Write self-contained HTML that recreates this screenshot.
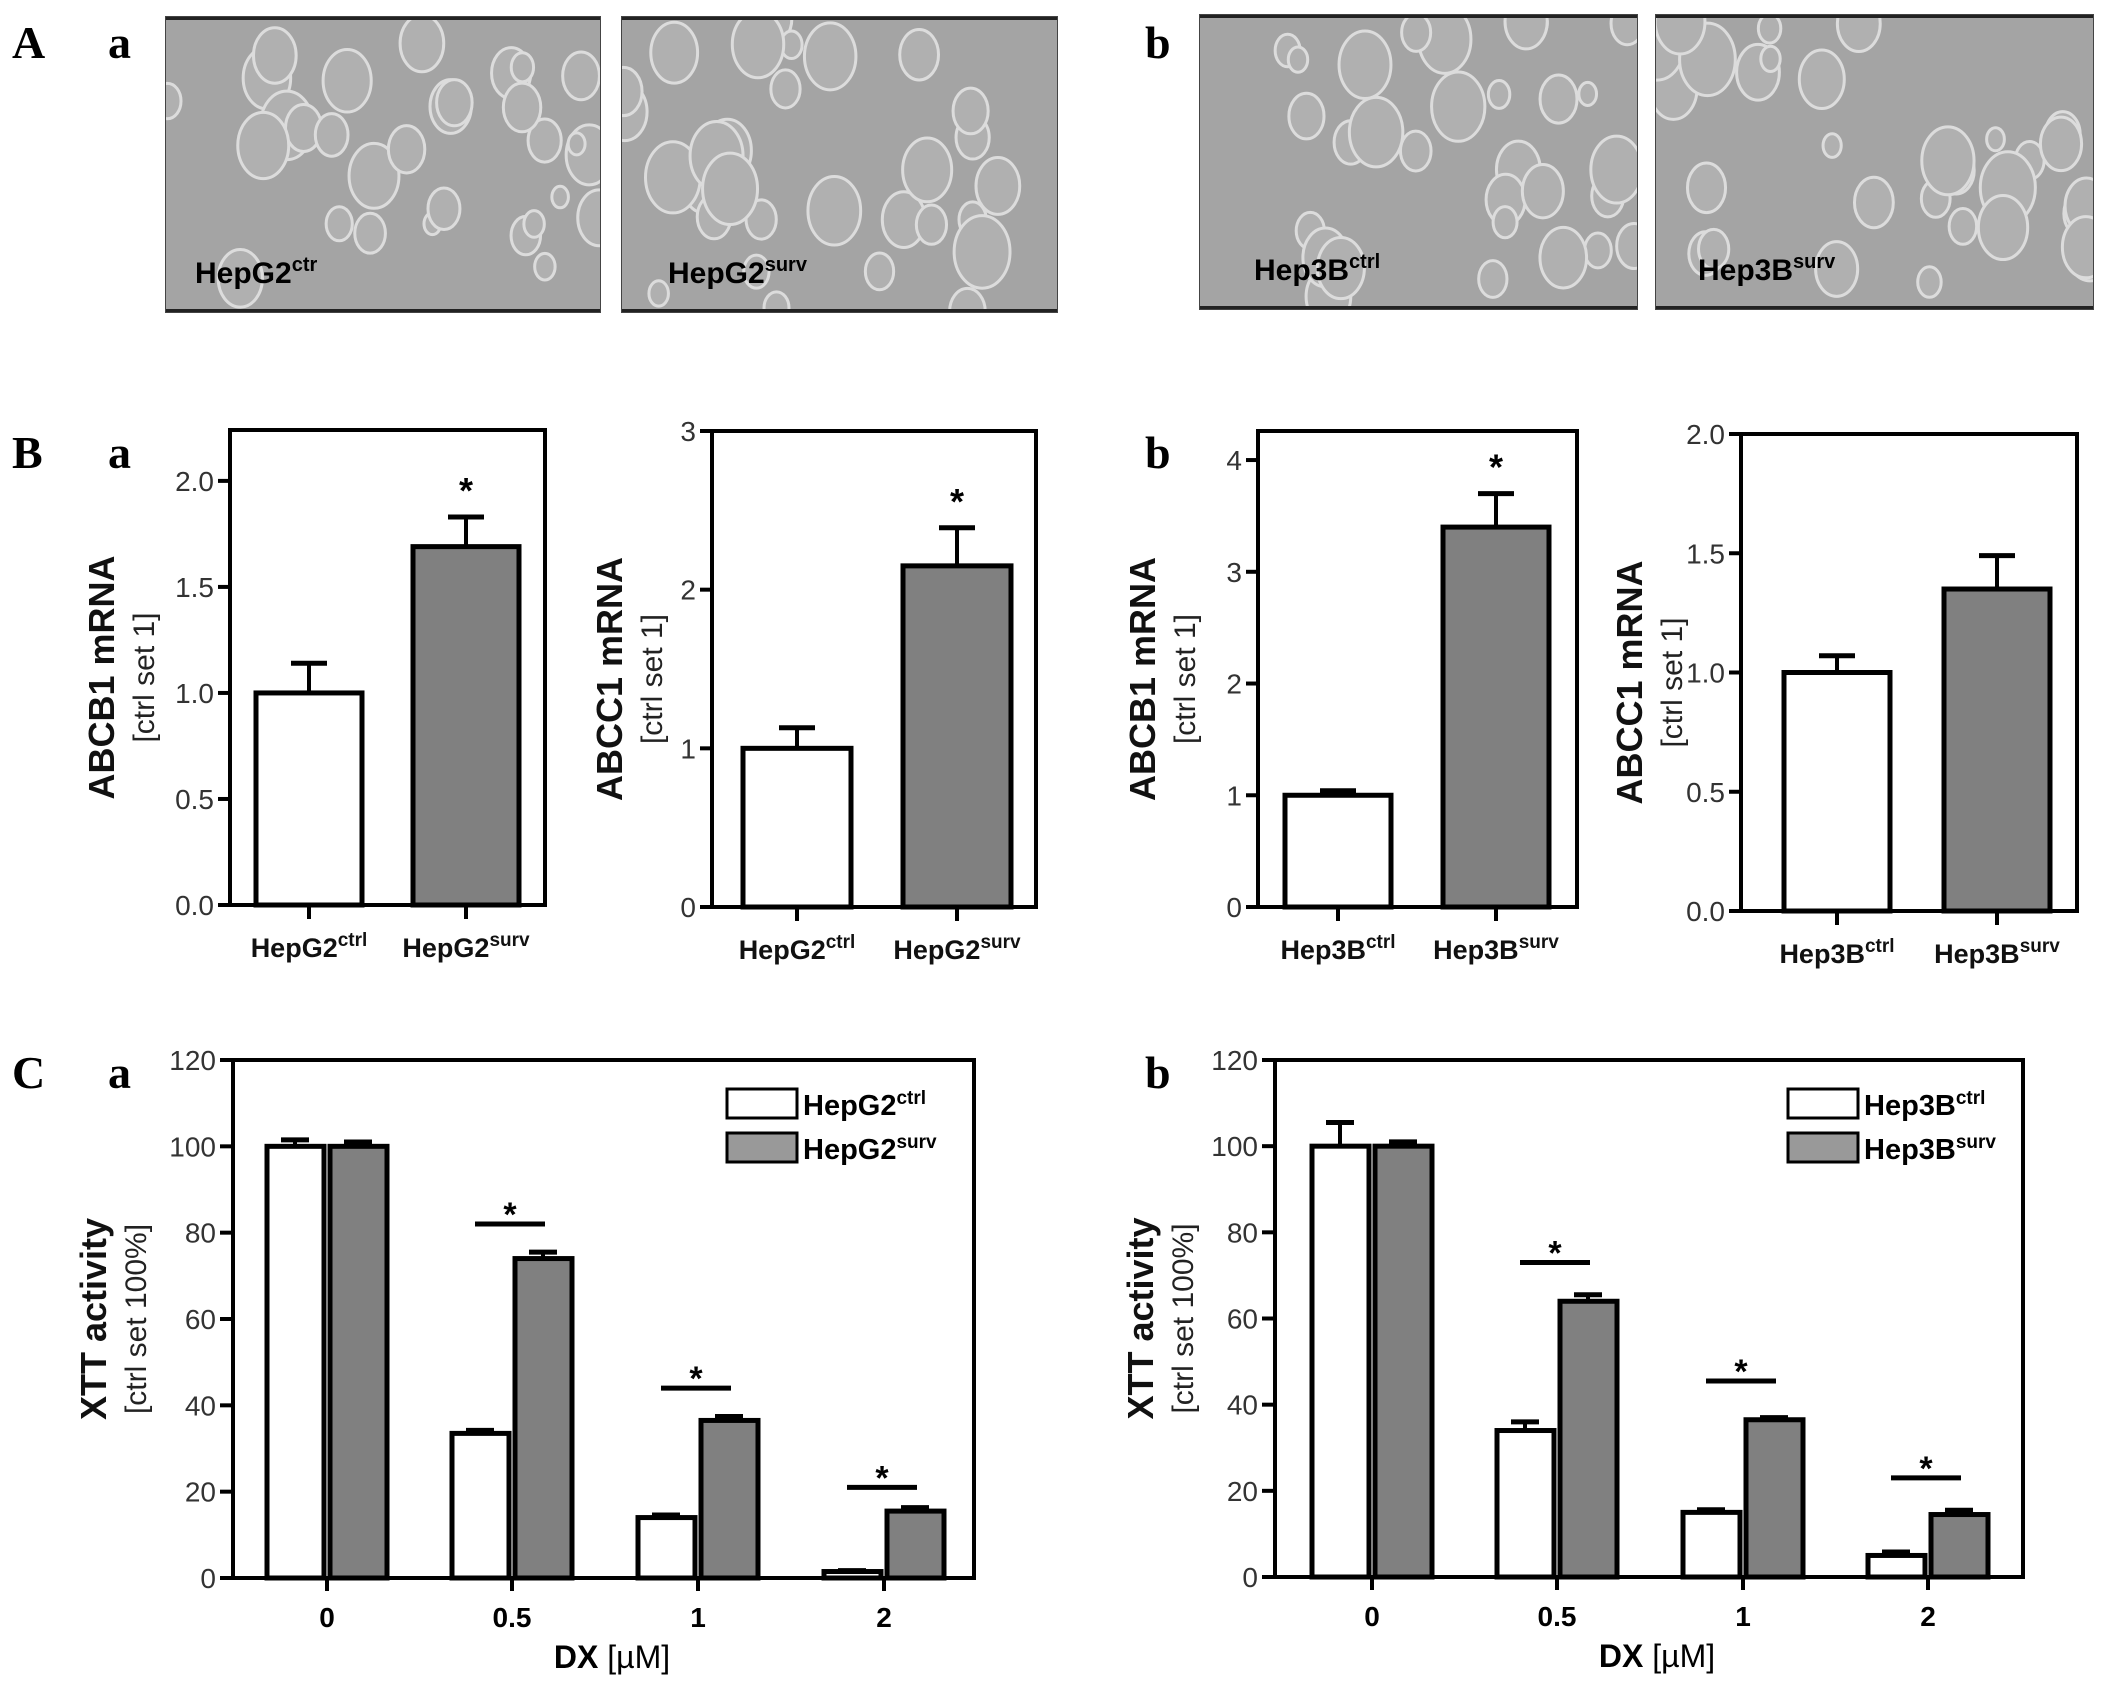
<!DOCTYPE html>
<html><head><meta charset="utf-8"><style>
html,body{margin:0;padding:0;background:#fff;}
svg{display:block;font-family:"Liberation Sans",Arial,sans-serif;}
.tk{font-size:28px;fill:#333;}
.cat{font-size:27px;font-weight:bold;fill:#111;}
.yt{font-size:36px;font-weight:bold;fill:#111;}
.yt2{font-size:30px;fill:#222;}
.pl{font-family:"Liberation Serif",serif;font-size:46px;font-weight:bold;}
</style></head><body>
<svg id="fig" width="2106" height="1682" viewBox="0 0 2106 1682" xmlns="http://www.w3.org/2000/svg">
<rect width="2106" height="1682" fill="#fff"/>
<defs id="defs"></defs>
<g id="photos"></g>
<g id="charts"></g>
<text class="pl" x="12" y="58">A</text>
<text class="pl" x="108" y="58">a</text>
<text class="pl" x="1145" y="58">b</text>
<text class="pl" x="12" y="468">B</text>
<text class="pl" x="108" y="468">a</text>
<text class="pl" x="1145" y="468">b</text>
<text class="pl" x="12" y="1088">C</text>
<text class="pl" x="108" y="1088">a</text>
<text class="pl" x="1145" y="1088">b</text>
</svg>
<script>
// ---- data ----
const mrnaCats = ["ctrl","surv"];
const b1Vals = [1.0, 1.69];  const b1Err = [0.14, 0.14];
const b2Vals = [1.0, 2.15];  const b2Err = [0.13, 0.24];
const b3Vals = [1.0, 3.4];   const b3Err = [0.04, 0.3];
const b4Vals = [1.0, 1.35];  const b4Err = [0.07, 0.14];
const b1Ticks = ["0.0","0.5","1.0","1.5","2.0"];
const b2Ticks = ["0","1","2","3"];
const b3Ticks = ["0","1","2","3","4"];
const b4Ticks = ["0.0","0.5","1.0","1.5","2.0"];
const doseCats = ["0","0.5","1","2"];
const caCtrl = [100, 33.5, 14, 1.5];  const caCtrlErr = [1.5, 0.7, 0.6, 0.2];
const caSurv = [100, 74, 36.5, 15.5]; const caSurvErr = [1, 1.5, 0.9, 0.8];
const cbCtrl = [100, 34, 15, 5];      const cbCtrlErr = [5.5, 2, 0.6, 0.8];
const cbSurv = [100, 64, 36.5, 14.5]; const cbSurvErr = [1, 1.5, 0.5, 1];
const xttTicks = ["0","20","40","60","80","100","120"];
const caSig = [null, 82, 44, 21];
const cbSig = [null, 73, 45.5, 23];

const NS="http://www.w3.org/2000/svg";
const charts=document.getElementById('charts');
function el(tag,attrs,parent,text){const e=document.createElementNS(NS,tag);for(const k in attrs)e.setAttribute(k,attrs[k]);if(text!==undefined)e.textContent=text;(parent||charts).appendChild(e);return e;}

// photos (decorative texture)
const photos=document.getElementById('photos');
const defs=document.getElementById('defs');
const photoBoxes=[[165,16,436,297,"HepG2","ctr",195],[621,16,437,297,"HepG2","surv",668],[1199,14,439,296,"Hep3B","ctrl",1254],[1655,14,439,296,"Hep3B","surv",1698]];
let seed=12345;
function rnd(){seed=(seed*1103515245+12345)%2147483648;return seed/2147483648;}
photoBoxes.forEach((p,i)=>{
  const cp=el('clipPath',{id:'cp'+i},defs);
  el('rect',{x:p[0],y:p[1],width:p[2],height:p[3]},cp);
  const g=el('g',{'clip-path':'url(#cp'+i+')'},photos);
  
  
  el('rect',{x:p[0],y:p[1],width:p[2],height:p[3],fill:'#a4a4a4'},g);
  for(let k=0;k<30;k++){const cx=p[0]+rnd()*p[2];const cy=p[1]+rnd()*p[3];const r=8+rnd()*20;
    el('ellipse',{cx:cx,cy:cy,rx:r,ry:r*1.3,fill:'#b0b0b0',stroke:'#dcdcdc','stroke-width':3},g);}
  el('line',{x1:p[0],y1:p[1]+2,x2:p[0]+p[2],y2:p[1]+2,stroke:'#222','stroke-width':4},g);
  el('line',{x1:p[0],y1:p[1]+p[3]-2,x2:p[0]+p[2],y2:p[1]+p[3]-2,stroke:'#222','stroke-width':4},g);
  el('rect',{x:p[0],y:p[1],width:p[2],height:p[3],fill:'none',stroke:'#444','stroke-width':2},g);
  const t=el('text',{x:p[6],y:p[1]+p[3]-30,'font-size':30,'font-weight':'bold',fill:'#000'},g);
  
  
  t.textContent=p[4];
  el('tspan',{dy:-12,'font-size':20},t,p[5]);
});

function catLabel(g,x,y,base,sup){
  const t=el('text',{x:x,y:y,'text-anchor':'middle',class:'cat'},g);
  
  
  el('tspan',{},t,base);el('tspan',{dy:-11,'font-size':19},t,sup);
}

function barChart(cfg){
  const g=el('g',{});
  
  
  const y=v=>cfg.y0-(v/cfg.ymax)*(cfg.y0-cfg.top);
  cfg.vals.forEach((v,i)=>{
    const xc=cfg.xs[i],hw=cfg.bw/2;
    const r=el('rect',{x:xc-hw,y:y(v),width:cfg.bw,height:cfg.y0-y(v),fill:i?'#808080':'#fff',stroke:'#000','stroke-width':5},g);
    
    
    const e=v+cfg.err[i];
    el('line',{x1:xc,y1:y(v),x2:xc,y2:y(e),stroke:'#000','stroke-width':4},g);
    el('line',{x1:xc-18,y1:y(e),x2:xc+18,y2:y(e),stroke:'#000','stroke-width':5},g);
    el('line',{x1:xc,y1:cfg.y0,x2:xc,y2:cfg.y0+14,stroke:'#000','stroke-width':4},g);
    catLabel(g,xc,cfg.y0+52,cfg.cl,i?'surv':'ctrl');
  });
  if(cfg.star){const xc=cfg.xs[1];const s=el('text',{x:xc,y:y(cfg.vals[1]+cfg.err[1])-14,'text-anchor':'middle','font-size':36,'font-weight':'bold'},g,'*');
    }
  el('rect',{x:cfg.left,y:cfg.top,width:cfg.right-cfg.left,height:cfg.y0-cfg.top,fill:'none',stroke:'#000','stroke-width':4},g);
  const n=cfg.ticks.length-1;
  cfg.ticks.forEach((t,i)=>{const v=cfg.tmax*i/n;const yy=y(v);
    el('line',{x1:cfg.left-12,y1:yy,x2:cfg.left,y2:yy,stroke:'#000','stroke-width':4},g);
    const tl=el('text',{x:cfg.left-16,y:yy+10,'text-anchor':'end',class:'tk'},g,t);
    });
  const cy=(cfg.top+cfg.y0)/2+10;
  const t1=el('text',{x:cfg.ylx,y:cy,'text-anchor':'middle',class:'yt',transform:`rotate(-90 ${cfg.ylx} ${cy})`},g,cfg.ylab);
  
  const t2=el('text',{x:cfg.ylx+40,y:cy,'text-anchor':'middle',class:'yt2',transform:`rotate(-90 ${cfg.ylx+40} ${cy})`},g,cfg.ylab2);
  
}
barChart({name:'chart-abcb1-hepg2',left:230,right:545,top:430,y0:905,ymax:2.24,tmax:2.0,ticks:b1Ticks,vals:b1Vals,err:b1Err,xs:[309,466],bw:106,cl:'HepG2',star:true,ylab:'ABCB1 mRNA',ylab2:'[ctrl set 1]',ylx:114});
barChart({name:'chart-abcc1-hepg2',left:712,right:1036,top:431,y0:907,ymax:3,tmax:3,ticks:b2Ticks,vals:b2Vals,err:b2Err,xs:[797,957],bw:108,cl:'HepG2',star:true,ylab:'ABCC1 mRNA',ylab2:'[ctrl set 1]',ylx:622});
barChart({name:'chart-abcb1-hep3b',left:1258,right:1577,top:431,y0:907,ymax:4.26,tmax:4,ticks:b3Ticks,vals:b3Vals,err:b3Err,xs:[1338,1496],bw:106,cl:'Hep3B',star:true,ylab:'ABCB1 mRNA',ylab2:'[ctrl set 1]',ylx:1155});
barChart({name:'chart-abcc1-hep3b',left:1741,right:2077,top:434,y0:911,ymax:2.0,tmax:2.0,ticks:b4Ticks,vals:b4Vals,err:b4Err,xs:[1837,1997],bw:106,cl:'Hep3B',star:false,ylab:'ABCC1 mRNA',ylab2:'[ctrl set 1]',ylx:1642});

function xttChart(cfg){
  const g=el('g',{});
  
  
  const y=v=>cfg.y0-(v/120)*(cfg.y0-cfg.top);
  doseCats.forEach((c,i)=>{
    const xc=cfg.xs[i];
    [[cfg.ctrl,cfg.ctrlErr,-60,'#fff','ctrl'],[cfg.surv,cfg.survErr,3,'#808080','surv']].forEach(s=>{
      const v=s[0][i],e=v+s[1][i],x0=xc+s[2];
      const r=el('rect',{x:x0,y:y(v),width:57,height:cfg.y0-y(v),fill:s[3],stroke:'#000','stroke-width':5},g);
      
      
      el('line',{x1:x0+28,y1:y(v),x2:x0+28,y2:y(e),stroke:'#000','stroke-width':4},g);
      el('line',{x1:x0+14,y1:y(e),x2:x0+42,y2:y(e),stroke:'#000','stroke-width':5},g);
    });
    el('line',{x1:xc,y1:cfg.y0,x2:xc,y2:cfg.y0+13,stroke:'#000','stroke-width':4},g);
    const tl=el('text',{x:xc,y:cfg.y0+49,'text-anchor':'middle','font-size':28,'font-weight':'bold'},g,c);
    
    if(cfg.sig[i]!==null){const yy=y(cfg.sig[i]);
      el('line',{x1:xc-37,y1:yy,x2:xc+33,y2:yy,stroke:'#000','stroke-width':5},g);
      const st=el('text',{x:xc-2,y:yy+2,'text-anchor':'middle','font-size':34,'font-weight':'bold'},g,'*');
      }
  });
  el('rect',{x:cfg.left,y:cfg.top,width:cfg.right-cfg.left,height:cfg.y0-cfg.top,fill:'none',stroke:'#000','stroke-width':4},g);
  xttTicks.forEach((t,i)=>{const yy=y(i*20);
    el('line',{x1:cfg.left-13,y1:yy,x2:cfg.left,y2:yy,stroke:'#000','stroke-width':4},g);
    const tl=el('text',{x:cfg.left-17,y:yy+10,'text-anchor':'end',class:'tk'},g,t);
    });
  [[0,'#fff','ctrl'],[1,'#999','surv']].forEach(l=>{
    const ly=1089+l[0]*44;
    const r=el('rect',{x:cfg.lx,y:ly,width:70,height:29,fill:l[1],stroke:'#000','stroke-width':3},g);
    
    const t=el('text',{x:cfg.lx+76,y:ly+26,'font-size':29,'font-weight':'bold'},g);
    
    el('tspan',{},t,cfg.cl);el('tspan',{dy:-11,'font-size':19},t,l[2]);
  });
  const cy=(cfg.top+cfg.y0)/2;
  const t1=el('text',{x:cfg.ylx,y:cy,'text-anchor':'middle',class:'yt',transform:`rotate(-90 ${cfg.ylx} ${cy})`},g,'XTT activity');
  
  const t2=el('text',{x:cfg.ylx+40,y:cy,'text-anchor':'middle',class:'yt2',transform:`rotate(-90 ${cfg.ylx+40} ${cy})`},g,'[ctrl set 100%]');
  
  const xt=el('text',{x:cfg.xs[1]+100,y:cfg.y0+90,'text-anchor':'middle','font-size':32},g);
  
  el('tspan',{'font-weight':'bold'},xt,'DX ');el('tspan',{},xt,'[µM]');
}
xttChart({name:'chart-xtt-hepg2',left:233,right:974,top:1060,y0:1578,xs:[327,512,698,884],ctrl:caCtrl,ctrlErr:caCtrlErr,surv:caSurv,survErr:caSurvErr,sig:caSig,lx:727,cl:'HepG2',ylx:106});
xttChart({name:'chart-xtt-hep3b',left:1275,right:2023,top:1060,y0:1577,xs:[1372,1557,1743,1928],ctrl:cbCtrl,ctrlErr:cbCtrlErr,surv:cbSurv,survErr:cbSurvErr,sig:cbSig,lx:1788,cl:'Hep3B',ylx:1153});
</script>
</body></html>
